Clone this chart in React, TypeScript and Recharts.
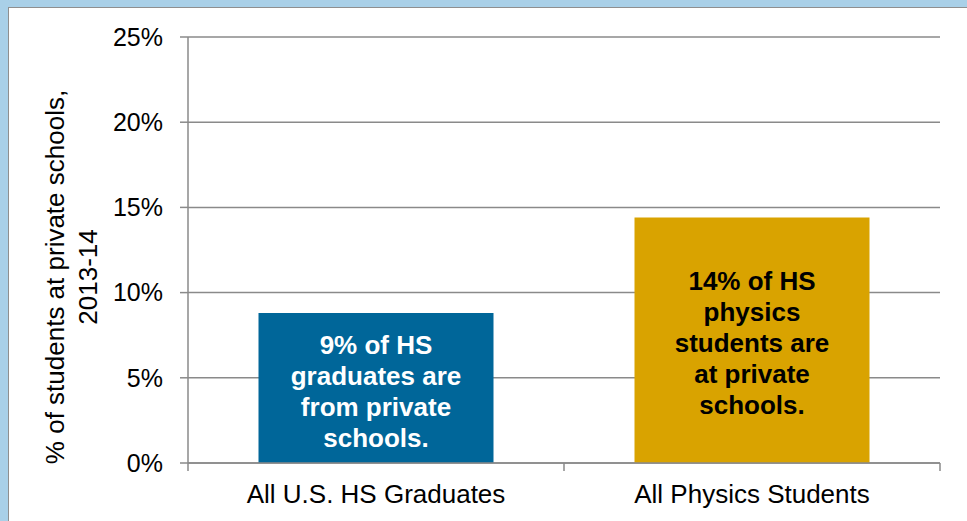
import React from "react";
import { BarChart, Bar, XAxis, YAxis, CartesianGrid, LabelList, Cell } from "recharts";

const categories = ["All U.S. HS Graduates", "All Physics Students"];
const shares = [0.088, 0.144];
const barColors = ["#006699", "#D9A300"];
const barTextColors = ["#ffffff", "#000000"];
const barNotes = [
  ["9% of HS", "graduates are", "from private", "schools."],
  ["14% of HS", "physics", "students are", "at private", "schools."],
];
const yTicks = [0, 0.05, 0.1, 0.15, 0.2, 0.25];

const data = categories.map((name, i) => ({ name, value: shares[i] }));

const W = 967;
const H = 521;
const MARGIN = { top: 37, right: 27, bottom: 0, left: 0 };
const X_AXIS_H = 58;
const Y_AXIS_W = 188;
const FONT = "'Liberation Sans', Arial, sans-serif";
const GRID = "#8a8a8a";
const BAND = (W - MARGIN.right - Y_AXIS_W) / categories.length;

function XTick(props: any) {
  const { x, y, payload, index } = props;
  const half = BAND / 2;
  return (
    <g>
      <line x1={x - half} y1={y - 8} x2={x - half} y2={y} stroke={GRID} strokeWidth={1.5} />
      {index === categories.length - 1 && (
        <line x1={x + half} y1={y - 8} x2={x + half} y2={y} stroke={GRID} strokeWidth={1.5} />
      )}
      <text x={x} y={y + 32} textAnchor="middle" fontSize={26} fill="#000" fontFamily={FONT}>
        {payload.value}
      </text>
    </g>
  );
}

function BarNote(props: any) {
  const { x, y, width, height, index } = props;
  const lines = barNotes[index] || [];
  const lh = 31;
  const cx = x + width / 2;
  const cy = y + height / 2 + 3;
  const start = cy - ((lines.length - 1) * lh) / 2;
  return (
    <text textAnchor="middle" fontSize={26} fontWeight="bold" fill={barTextColors[index]} fontFamily={FONT}>
      {lines.map((l: string, i: number) => (
        <tspan key={i} x={cx} y={start + i * lh} dy="0.35em">
          {l}
        </tspan>
      ))}
    </text>
  );
}

function YLabel() {
  const cy = 277;
  return (
    <text
      transform={`translate(71, ${cy}) rotate(-90)`}
      textAnchor="middle"
      fontSize={26}
      fill="#000"
      fontFamily={FONT}
    >
      <tspan x={0} y={-16} dy="0.35em">% of students at private schools,</tspan>
      <tspan x={0} y={17} dy="0.35em">2013-14</tspan>
    </text>
  );
}

export default function App() {
  return (
    <div style={{ position: "fixed", left: 0, top: 0, width: W, height: H, background: "#a9d0e8" }}>
      <div
        style={{
          position: "absolute",
          left: 8,
          top: 7,
          right: 0,
          bottom: 0,
          background: "#fff",
          borderLeft: "1.5px solid #8f8f8f",
          borderTop: "1.5px solid #8f8f8f",
        }}
      />
      <div style={{ position: "absolute", left: 0, top: 0 }}>
        <BarChart width={W} height={H} data={data} margin={MARGIN} barCategoryGap="18.75%">
          <CartesianGrid vertical={false} stroke={GRID} strokeWidth={1.5} />
          <XAxis
            dataKey="name"
            height={X_AXIS_H}
            axisLine={{ stroke: GRID, strokeWidth: 1.5 }}
            tickLine={false}
            tick={<XTick />}
            interval={0}
          />
          <YAxis
            width={Y_AXIS_W}
            domain={[0, 0.25]}
            ticks={yTicks}
            allowDataOverflow
            axisLine={{ stroke: GRID, strokeWidth: 1.5 }}
            tickLine={{ stroke: GRID, strokeWidth: 1.5 }}
            tickSize={8}
            tickMargin={17}
            tickFormatter={(v: number) => `${Math.round(v * 100)}%`}
            tick={{ fontSize: 25, fill: "#000", fontFamily: FONT }}
          />
          <Bar dataKey="value" isAnimationActive={false}>
            {data.map((d, i) => (
              <Cell key={d.name} fill={barColors[i]} />
            ))}
            <LabelList dataKey="value" content={<BarNote />} />
          </Bar>
          <YLabel />
        </BarChart>
      </div>
    </div>
  );
}
